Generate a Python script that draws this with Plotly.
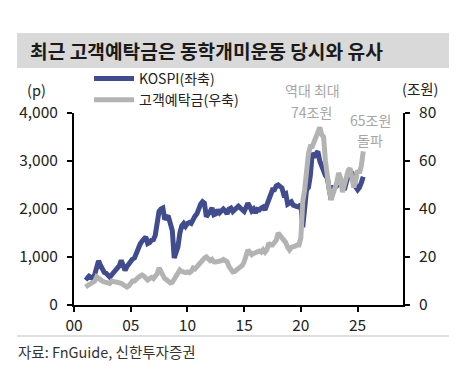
import pandas as pd
import plotly.graph_objects as go

# ---------------- data (bi-monthly, Jan 2001 .. Jul 2025) ----------------
kospi = [
    590, 560, 600, 570, 550, 640,        # 2001
    780, 920, 830, 740, 680, 660,        # 2002
    600, 580, 630, 680, 700, 760,        # 2003
    820, 930, 820, 720, 800, 860,        # 2004
    900, 960, 980, 1100, 1200, 1270,     # 2005
    1330, 1380, 1420, 1280, 1300, 1350,  # 2006
    1360, 1450, 1650, 1950, 2000, 2020,  # 2007
    1780, 1840, 1830, 1700, 1550, 980,   # 2008
    1100, 1210, 1500, 1650, 1700, 1640,  # 2009
    1700, 1720, 1700, 1790, 1850, 1900,  # 2010
    2050, 2100, 2150, 2120, 1840, 1880,  # 2011
    1950, 2020, 1880, 1900, 1980, 1920,  # 2012
    1980, 2000, 1960, 1900, 2000, 2020,  # 2013
    1950, 1980, 2000, 2060, 2020, 1980,  # 2014
    1950, 2030, 2120, 2050, 1960, 2000,  # 2015
    1920, 1990, 1980, 2020, 2040, 1980,  # 2016
    2100, 2180, 2300, 2400, 2400, 2480,  # 2017
    2500, 2450, 2440, 2300, 2320, 2100,  # 2018
    2120, 2150, 2080, 2050, 2050, 2040,  # 2019
    2100, 1620, 1950, 2400, 2450, 2700,  # 2020
    3170, 3080, 3150, 3200, 3000, 2880,  # 2021
    2800, 2700, 2650, 2450, 2190, 2450,  # 2022
    2450, 2480, 2540, 2600, 2450, 2400,  # 2023
    2550, 2700, 2800, 2750, 2550, 2460,  # 2024
    2400, 2450, 2550, 2670,              # 2025
]
deposits = [
    7.5, 8, 8.5, 8.5, 9, 10,             # 2001
    11.7, 11, 10.5, 10, 9.6, 9.5,        # 2002
    9.6, 9, 10, 9.8, 9.5, 9.6,           # 2003
    9.5, 9, 8.5, 8, 7.5, 8,              # 2004
    9, 10, 10, 11, 11.5, 12,             # 2005
    12.5, 12, 11, 10.4, 11, 11.5,        # 2006
    11, 12, 13, 15.4, 14, 12,            # 2007
    11, 10.5, 10, 9.2, 9.5, 11,          # 2008
    12, 13, 14.6, 14, 13.5, 13.5,        # 2009
    13.8, 13.5, 14, 15.4, 15, 16,        # 2010
    17, 18, 19, 19.5, 20, 19,            # 2011
    18.5, 19, 18, 17.9, 18, 18.5,        # 2012
    18.5, 19, 18.75, 18, 16, 15,         # 2013
    13.8, 14, 14.5, 15, 16, 16.5,        # 2014
    18, 20, 22.9, 22, 21, 21.5,          # 2015
    22, 22, 22.5, 22, 23, 22,            # 2016
    23, 25.8, 25, 25, 26, 27,            # 2017
    30, 29, 28, 27, 26, 24,              # 2018
    22.9, 24, 24, 24.5, 25, 25,          # 2019
    28, 43, 48, 58, 63, 66,              # 2020
    66, 68, 70, 73, 74, 71,              # 2021
    70, 60, 53, 48, 44, 46,              # 2022
    48, 51, 55, 53, 47, 50,              # 2023
    55, 56, 57, 54, 49, 52,              # 2024
    56, 55, 58, 64,                      # 2025
]
dates = pd.date_range("2001-01-01", periods=len(kospi), freq="2MS")

x_tick_vals = ["2000-01-01", "2005-01-01", "2010-01-01", "2015-01-01", "2020-01-01", "2025-01-01"]
x_tick_text = ["00", "05", "10", "15", "20", "25"]
left_ticks = [0, 1000, 2000, 3000, 4000]
right_ticks = [0, 20, 40, 60, 80]

title_text = "최근 고객예탁금은 동학개미운동 당시와 유사"
source_text = "자료: FnGuide, 신한투자증권"

BLUE = "#414C8E"
GRAY = "#B3B3B3"
ANN = "#A6A6A6"
FONT = "Noto Sans CJK KR"

fig = go.Figure()
fig.add_trace(go.Scatter(x=dates, y=kospi, mode="lines", name="KOSPI(좌축)",
                         line=dict(color=BLUE, width=5), yaxis="y"))
fig.add_trace(go.Scatter(x=dates, y=deposits, mode="lines", name="고객예탁금(우축)",
                         line=dict(color=GRAY, width=5), yaxis="y2"))

W, H = 466, 388
L, R, T, B = 74, 63, 113, 83
pw, ph = W - L - R, H - T - B


def px(xp):
    return (xp - L) / pw


def py(yp):
    return (H - B - yp) / ph


axis_common = dict(showgrid=False, zeroline=False, showline=True, linecolor="black",
                   linewidth=2, ticks="outside", ticklen=5, tickwidth=1.5, tickcolor="black",
                   tickfont=dict(family=FONT, size=15.5, color="#222"))

fig.update_layout(
    width=W, height=H,
    margin=dict(l=L, r=R, t=T, b=B),
    paper_bgcolor="white", plot_bgcolor="white",
    font=dict(family=FONT, color="#222"),
    xaxis=dict(type="date", range=["2000-01-01", "2029-01-01"],
               tickmode="array", tickvals=x_tick_vals, ticktext=x_tick_text,
               **axis_common),
    yaxis=dict(range=[0, 4000], tickmode="array", tickvals=left_ticks,
               tickformat=",", ticklabelstandoff=6, **axis_common),
    yaxis2=dict(range=[0, 80], tickmode="array", tickvals=right_ticks,
                overlaying="y", side="right", ticklabelstandoff=6, **axis_common),
    legend=dict(x=px(89), y=py(63), xanchor="left", yanchor="top",
                bgcolor="rgba(0,0,0,0)", font=dict(family=FONT, size=14, color="#222"),
                tracegroupgap=0, itemwidth=40),
    showlegend=True,
)

# title bar
fig.add_shape(type="rect", xref="paper", yref="paper",
              x0=px(17), x1=px(449), y0=py(68), y1=py(33),
              fillcolor="#D9D9D9", line=dict(width=0), layer="below")
fig.add_annotation(xref="paper", yref="paper", x=px(28), y=py(51), xanchor="left",
                   yanchor="middle", showarrow=False, text="<b>" + title_text + "</b>",
                   font=dict(family=FONT, size=19.2, color="#1a1a1a"))
# footer line and source
fig.add_shape(type="line", xref="paper", yref="paper",
              x0=px(17), x1=px(449), y0=py(336), y1=py(336),
              line=dict(color="#BFBFBF", width=1))
fig.add_annotation(xref="paper", yref="paper", x=px(16), y=py(351), xanchor="left",
                   yanchor="middle", showarrow=False, text=source_text,
                   font=dict(family=FONT, size=14.5, color="#333"))
# axis units
fig.add_annotation(xref="paper", yref="paper", x=px(36), y=py(89), xanchor="center",
                   yanchor="middle", showarrow=False, text="(p)",
                   font=dict(family=FONT, size=14.5, color="#222"))
fig.add_annotation(xref="paper", yref="paper", x=px(420), y=py(88), xanchor="center",
                   yanchor="middle", showarrow=False, text="(조원)",
                   font=dict(family=FONT, size=14.5, color="#222"))
# callouts
for txt, cx, cy in [("역대 최대", 312, 90), ("74조원", 311, 112), ("65조원", 370, 120), ("돌파", 370, 140)]:
    fig.add_annotation(xref="paper", yref="paper", x=px(cx), y=py(cy), xanchor="center",
                       yanchor="middle", showarrow=False, text=txt,
                       font=dict(family=FONT, size=14, color=ANN))

fig.write_html("out.html", config={"displayModeBar": False},
               post_script="document.body.style.margin='0';")
